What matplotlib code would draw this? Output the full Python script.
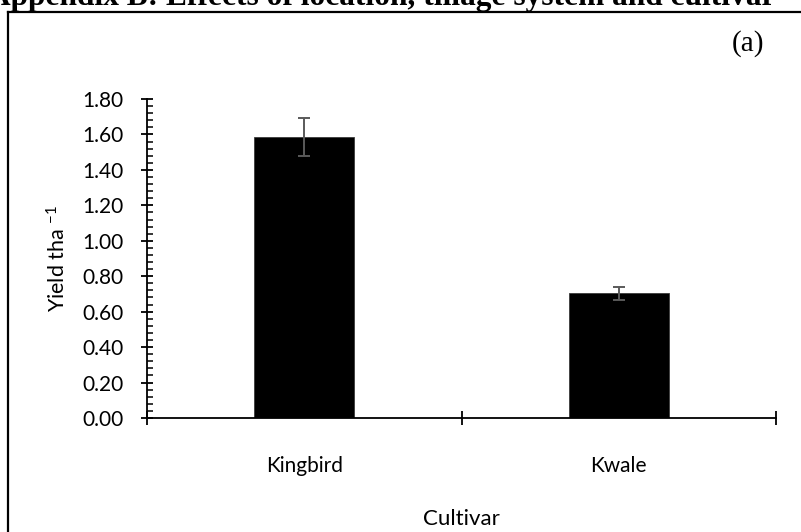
import matplotlib
matplotlib.use("Agg")
import matplotlib.pyplot as plt
from matplotlib.lines import Line2D
from matplotlib.ticker import MultipleLocator, FixedLocator, NullFormatter, FixedFormatter

# Mean grain yield per cultivar with standard error
cultivars = ["Kingbird", "Kwale"]
yield_t_ha = [1.585, 0.705]
yield_se = [0.107, 0.037]

y_ticks = [0.0, 0.2, 0.4, 0.6, 0.8, 1.0, 1.2, 1.4, 1.6, 1.8]

plt.rcParams["font.family"] = ["Lato", "DejaVu Sans"]
plt.rcParams["mathtext.default"] = "regular"

W, H = 801, 532
fig = plt.figure(figsize=(W / 100, H / 100), dpi=100)

ax_left, ax_right = 147 / W, 776 / W
ax_bottom, ax_top = 1 - 418 / H, 1 - 99 / H
ax = fig.add_axes([ax_left, ax_bottom, ax_right - ax_left, ax_top - ax_bottom])

x = list(range(len(cultivars)))
ax.bar(x, yield_t_ha, width=0.318, color="black", edgecolor="#3a3a3a", linewidth=0.6, zorder=2)
ax.errorbar(x, yield_t_ha, yerr=yield_se, fmt="none", ecolor="#5a5a5a",
            elinewidth=1.4, capsize=4.6, capthick=1.4, zorder=3)

ax.set_xlim(-0.5, len(cultivars) - 0.5)
ax.set_ylim(0, 1.8)

# y axis: major every 0.2, minor every 0.04
ax.yaxis.set_major_locator(FixedLocator(y_ticks))
ax.yaxis.set_major_formatter(FixedFormatter([f"{v:.2f}" for v in y_ticks]))
ax.yaxis.set_minor_locator(MultipleLocator(0.04))
ax.tick_params(axis="y", which="major", direction="inout", length=8, width=1.3,
               labelsize=15, pad=13)
ax.tick_params(axis="y", which="minor", direction="in", length=4, width=1.1)

# x axis: ticks at category boundaries, labels at category centres
ax.xaxis.set_major_locator(FixedLocator([i - 0.5 for i in range(len(cultivars) + 1)]))
ax.xaxis.set_major_formatter(NullFormatter())
ax.xaxis.set_minor_locator(FixedLocator(x))
ax.xaxis.set_minor_formatter(FixedFormatter(cultivars))
ax.tick_params(axis="x", which="minor", length=0, labelsize=15, pad=27)
ax.tick_params(axis="x", which="major", direction="inout", length=10, width=1.3)

for side in ("top", "right"):
    ax.spines[side].set_visible(False)
for side in ("left", "bottom"):
    ax.spines[side].set_linewidth(1.3)
    ax.spines[side].set_color("black")

ax.set_ylabel("Yield tha $^{-1}$", fontsize=15.5, va="center")
ax.yaxis.set_label_coords((58 - 147) / (776 - 147), 0.5)
ax.set_xlabel("Cultivar", fontsize=16, va="center")
ax.xaxis.set_label_coords(0.5, (418 - 519) / (418 - 99))

# page frame around the chart
fig.add_artist(Line2D([8 / W, 8 / W], [0, 1 - 12 / H], transform=fig.transFigure,
                      color="black", linewidth=1.6))
fig.add_artist(Line2D([8 / W, 1], [1 - 12 / H, 1 - 12 / H], transform=fig.transFigure,
                      color="black", linewidth=1.6))

# panel letter and the heading above the frame
fig.text(748 / W, 1 - 44 / H, "(a)", family="Liberation Serif", fontsize=21,
         ha="center", va="center")
fig.text(-12 / W, 1 - 5 / H, "Appendix B: Effects of location, tillage system and cultivar",
         family="Liberation Serif", fontweight="bold", fontsize=22.6, ha="left",
         va="baseline")

fig.savefig("out.png", dpi=100)
